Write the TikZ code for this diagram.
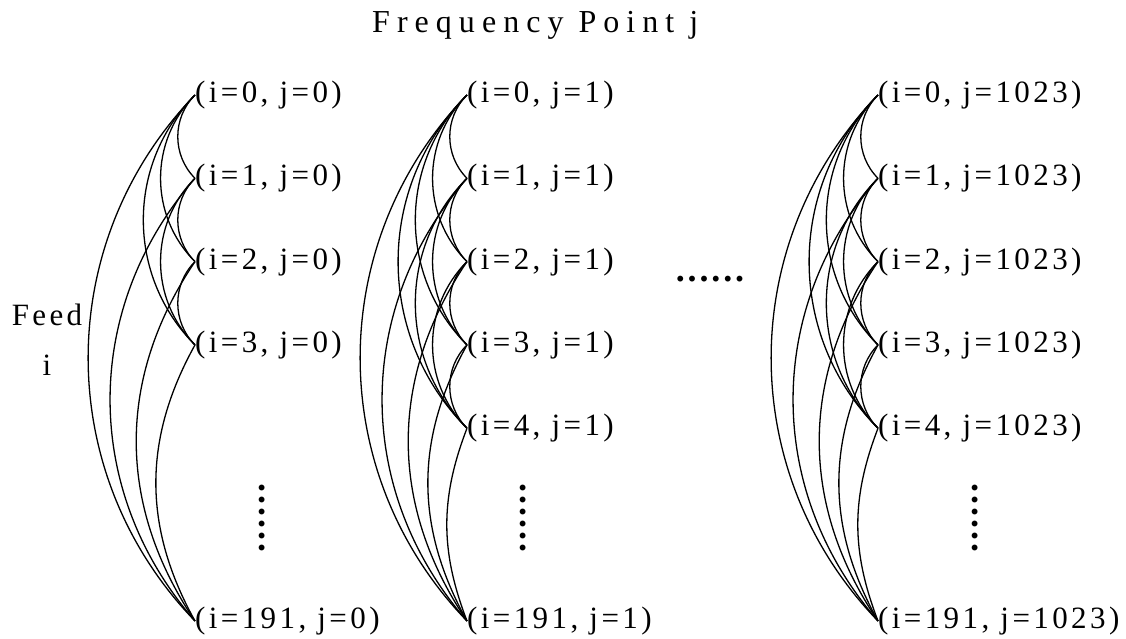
\documentclass[tikz,border=0pt]{standalone}
\usepackage{fontspec}
\setmainfont{Liberation Serif}
\newfontfamily\lblfont[LetterSpace=11]{Liberation Serif}
\newfontfamily\ttlfont[LetterSpace=22]{Liberation Serif}
\newfontfamily\dotfont[LetterSpace=8]{Liberation Serif}

\begin{document}
\begin{tikzpicture}[x=1pt, y=-1pt,
  lbl/.style={anchor=west, inner sep=0pt, font=\lblfont\fontsize{31}{36}\selectfont},
  ttl/.style={inner sep=0pt, font=\ttlfont\fontsize{32}{38}\selectfont},
  dots/.style={inner sep=0pt, font=\dotfont\bfseries\fontsize{36}{40}\selectfont},
  arc/.style={line width=1.3pt}]
  \useasboundingbox (0,0) rectangle (1126,639);
  \node[ttl, anchor=base west] (title) at (372,33) {Frequency Point j};
  \node[lbl, anchor=north, align=center, font=\lblfont\fontsize{31}{50}\selectfont] (feed) at (47,304) {Feed\\i};
  \node[dots] (hdots) at (710,279) {......};
  % one column per frequency point
  \foreach \col/\cx/\fj/\last/\dx in {a/195/0/3/262, b/467/1/4/523, c/878/1023/4/975} {
    \foreach \row in {0,...,\last}
      \node[lbl] (\col\row) at (\cx, 95+83.3*\row) {(i=\row, j=\fj)};
    \node[lbl] (\col191) at (\cx, 621) {(i=191, j=\fj)};
    \node[dots, rotate=90] (\col dots) at (\dx, 518) {......};
    % arcs between every pair of feeds
    \foreach \src in {0,...,\last} {
      \foreach \dst in {0,...,\last} {
        \ifnum\dst>\src\relax
          \draw[arc] (\col\src.west) to[bend right=45] (\col\dst.west);
        \fi
      }
      \pgfmathsetmacro\ang{{44,41,34,29,21}[\src]}
      \draw[arc] (\col\src.west) to[bend right=\ang] (\col191.west);
    }
  }
\end{tikzpicture}
\end{document}
